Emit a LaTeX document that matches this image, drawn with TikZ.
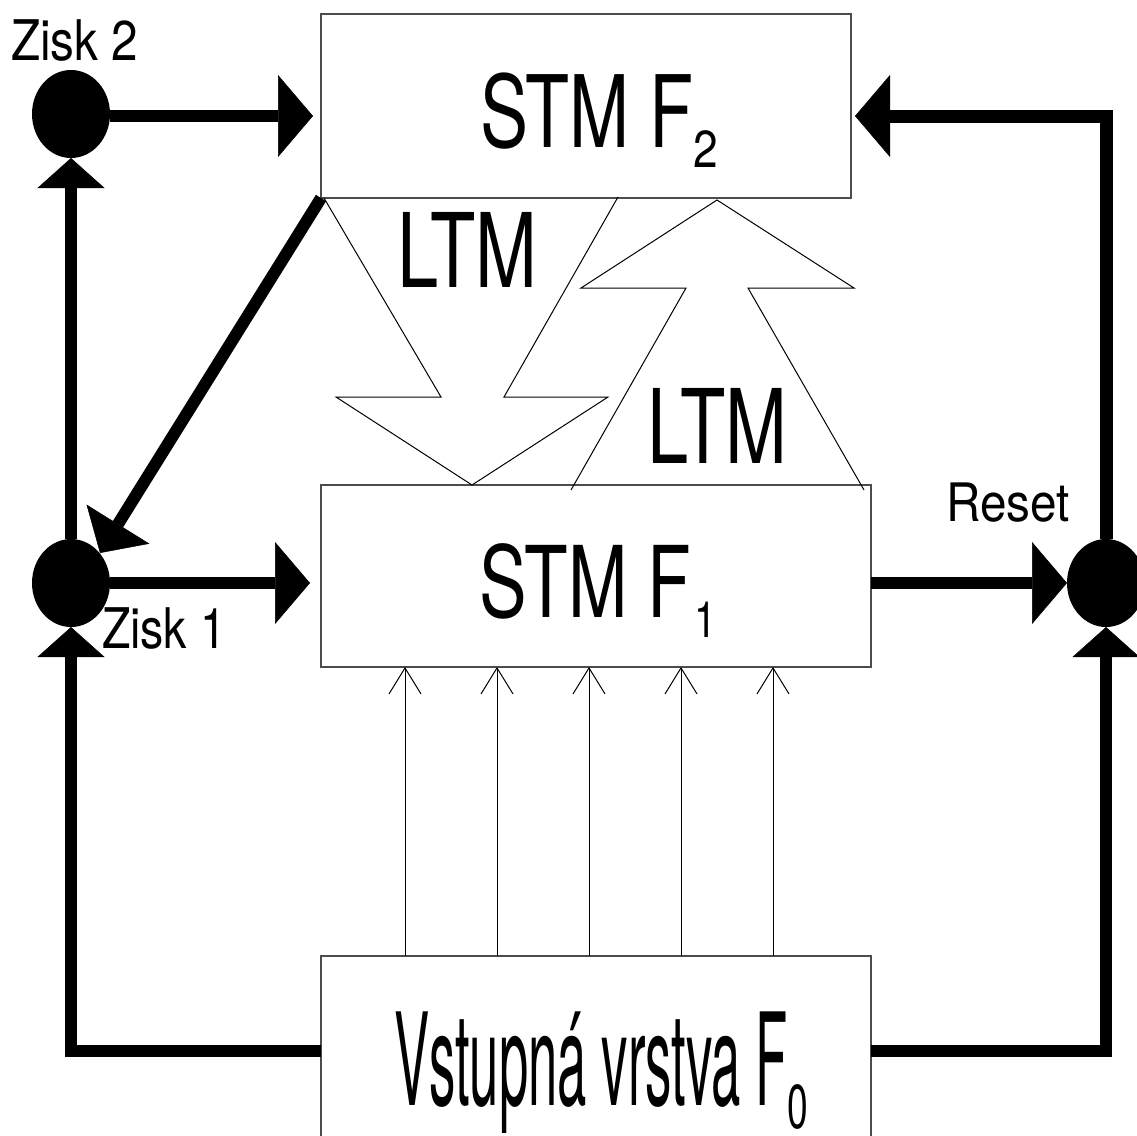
\documentclass[tikz,border=0pt]{standalone}
\usepackage{fontspec}
\setmainfont{TeX Gyre Heros}
\usetikzlibrary{arrows.meta,shapes.geometric}
\tikzset{
  box/.style={draw=black!70, line width=1.3pt, inner sep=0pt, outer sep=0pt},
  dot/.style={ellipse, fill=black, minimum width=78pt, minimum height=88pt, inner sep=0pt, outer sep=0pt},
  big/.style={line width=12pt, -{Triangle[length=35pt,width=82pt,line width=0.5pt]}},
  upar/.style={-{Triangle[length=30pt,width=67pt,line width=0.5pt]}},
  diaghead/.style={-{Triangle[length=34pt,width=74pt,line width=0.5pt]}},
  fine/.style={line width=1pt, -{Straight Barb[length=26pt,width=32pt]}},
  thinln/.style={line width=1pt, line join=miter},
  lbl/.style={inner sep=0pt, outer sep=0pt, anchor=base west}
}
\begin{document}
\begin{tikzpicture}[x=1pt,y=-1pt]
\useasboundingbox (0,0) rectangle (1137,1135);
\clip (0,0) rectangle (1137,1135);
\fill[white] (0,0) rectangle (1137,1135);

% boxes
\node[box, minimum width=530pt, minimum height=184pt] (f2) at (586,106) {};
\node[box, minimum width=550pt, minimum height=182pt] (f1) at (596,576) {};
\node[box, minimum width=550pt, minimum height=190pt] (f0) at (596,1051) {};

% junction dots
\node[dot] (z2) at (71,114) {};
\node[dot] (z1) at (71,583) {};
\node[dot] (rs) at (1106,583) {};

% helper coordinates
\coordinate (a2) at (313,116);
\coordinate (a1) at (310,583);
\coordinate (ar) at (855,116);
\coordinate (dtip) at (100,553);

% thick connectors
\draw[big] (z2.east |- a2) -- (a2);
\draw[big, upar] (z1) -- (z2);
\draw[big] (z1) -- (a1);
\draw[big, upar] (f0.west) -| (z1);
\draw[big] (f1.east |- rs) -- (rs);
\draw[big, upar] (f0.east) -| (rs);
\draw[big, line width=13pt] (rs) |- (ar);
\draw[big, diaghead] (f2.south west) -- (dtip);

% LTM hollow arrows
\draw[thinln] (324,198) -- (441,397) -- (336,397) -- (472,485) -- (608,397) -- (504,397) -- (618,197);
\draw[thinln] (571,490) -- (686,288) -- (581,288) -- (717,200) -- (854,288) -- (748,288) -- (864,490);

% thin input arrows
\foreach \x in {405,497,589,681,773} {
  \coordinate (c\x) at (\x,0);
  \draw[fine] (f0.north -| c\x) -- (f1.south -| c\x);
}

% texts
\node[lbl] (tf2) at (480,147) {\scalebox{0.72}[1]{\fontsize{100pt}{100pt}\selectfont STM F}\raisebox{-20pt}{\scalebox{0.85}[1]{\fontsize{52pt}{52pt}\selectfont 2}}};
\node[lbl] (tf1) at (479,617) {\scalebox{0.72}[1]{\fontsize{99pt}{99pt}\selectfont STM F}\kern4pt\raisebox{-20pt}{\scalebox{0.8}[1]{\fontsize{50pt}{50pt}\selectfont 1}}};
\node[lbl] (tf0) at (394,1105) {\scalebox{0.41}[1]{\fontsize{128.5pt}{128.5pt}\selectfont Vstupná vrstva F}\raisebox{-23pt}{\scalebox{0.6}[1]{\fontsize{62pt}{62pt}\selectfont 0}}};
\node[lbl] (ltm1) at (397,287) {\scalebox{0.72}[1]{\fontsize{103pt}{103pt}\selectfont LTM}};
\node[lbl] (ltm2) at (647,463) {\scalebox{0.72}[1]{\fontsize{103pt}{103pt}\selectfont LTM}};
\node[lbl] (lz2) at (11,60) {\scalebox{0.85}[1]{\fontsize{56pt}{56pt}\selectfont Zisk 2}};
\node[lbl] (lz1) at (102,648) {\scalebox{0.83}[1]{\fontsize{56pt}{56pt}\selectfont Zisk 1}};
\node[lbl] (lrs) at (946,521) {\scalebox{0.9}[1]{\fontsize{53pt}{53pt}\selectfont Reset}};
\end{tikzpicture}
\end{document}
